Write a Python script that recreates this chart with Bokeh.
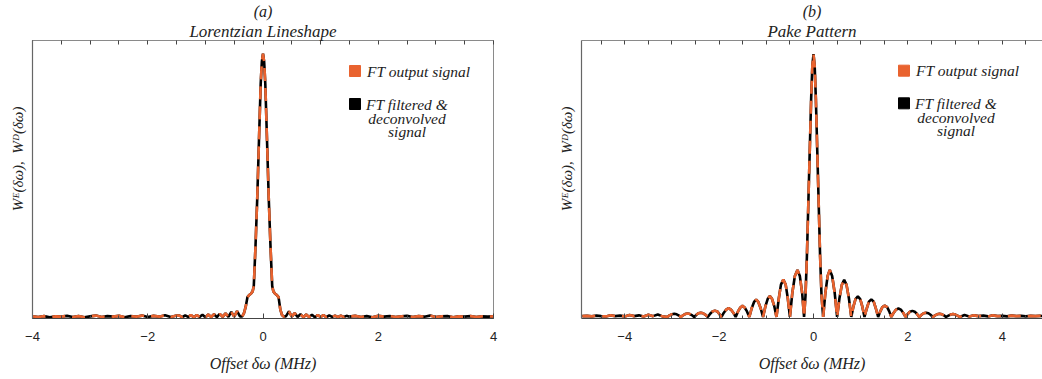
from bokeh.plotting import figure
from bokeh.models import Range1d, FixedTicker, LinearAxis, Title
from bokeh.layouts import row
from bokeh.core.properties import value
from bokeh.embed import file_html
from bokeh.resources import INLINE

# ---------------- data: panel (a) Lorentzian lineshape ----------------
offset_a = [-4.0, -3.9, -3.8, -3.7, -3.6, -3.5, -3.4, -3.3, -3.2, -3.1,
            -3.0, -2.9, -2.8, -2.7, -2.6, -2.5, -2.4, -2.3, -2.2, -2.1,
            -2.0, -1.9, -1.8, -1.7, -1.6, -1.5,
            -1.45, -1.40, -1.35, -1.30, -1.25, -1.20, -1.15, -1.10, -1.05, -1.00,
            -0.95, -0.90, -0.85, -0.80, -0.75, -0.70, -0.65, -0.60, -0.55, -0.50,
            -0.45, -0.40,
            -0.36, -0.33, -0.30, -0.27, -0.24, -0.21, -0.18, -0.16, -0.13, -0.10,
            -0.07, -0.04, -0.02, 0.0, 0.02, 0.04, 0.07, 0.10, 0.13, 0.16,
            0.18, 0.21, 0.24, 0.27, 0.30, 0.33, 0.36,
            0.40, 0.45, 0.50, 0.55, 0.60, 0.65, 0.70, 0.75, 0.80, 0.85,
            0.90, 0.95, 1.00, 1.05, 1.10, 1.15, 1.20, 1.25, 1.30, 1.35,
            1.40, 1.45,
            1.5, 1.6, 1.7, 1.8, 1.9, 2.0, 2.1, 2.2, 2.3, 2.4,
            2.5, 2.6, 2.7, 2.8, 2.9, 3.0, 3.1, 3.2, 3.3, 3.4,
            3.5, 3.6, 3.7, 3.8, 3.9, 4.0]
filtered_a = [0.003, 0.001, 0.004, 0.0, 0.003, 0.002, 0.005, 0.001, 0.004, 0.0,
              0.003, 0.006, 0.001, 0.004, 0.002, 0.005, 0.0, 0.004, 0.002, 0.006,
              0.001, 0.005, 0.002, 0.007, 0.001, 0.006,
              0.006, 0.0, 0.007, 0.001, 0.008, 0.0, 0.008, 0.001, 0.009, 0.0,
              0.010, 0.001, 0.011, 0.0, 0.013, 0.001, 0.015, 0.001, 0.020, 0.002,
              0.023, 0.003,
              0.003, 0.015, 0.040, 0.076, 0.084, 0.089, 0.098, 0.118, 0.27, 0.45,
              0.67, 0.886, 0.97, 1.0, 0.97, 0.886, 0.67, 0.45, 0.27, 0.118,
              0.098, 0.089, 0.084, 0.076, 0.030, 0.008, 0.002,
              0.004, 0.022, 0.002, 0.016, 0.001, 0.011, 0.0, 0.010, 0.001, 0.009,
              0.0, 0.008, 0.001, 0.008, 0.0, 0.007, 0.001, 0.006, 0.0, 0.006,
              0.001, 0.005,
              0.002, 0.005, 0.001, 0.004, 0.0, 0.005, 0.002, 0.004, 0.001, 0.003,
              0.005, 0.001, 0.004, 0.002, 0.006, 0.001, 0.003, 0.004, 0.0, 0.003,
              0.002, 0.004, 0.001, 0.003, 0.002, 0.003]
output_a = list(filtered_a)

# ---------------- data: panel (b) Pake pattern ----------------
offset_b = [-4.9, -4.8, -4.7, -4.6, -4.5, -4.4, -4.3, -4.2, -4.1, -4.0,
            -3.9, -3.8, -3.7, -3.6, -3.5, -3.4, -3.3, -3.2,
            -3.10, -3.05, -3.00, -2.95, -2.90, -2.86,
            -2.81, -2.76, -2.72, -2.67, -2.62, -2.58,
            -2.53, -2.48, -2.44, -2.39, -2.34, -2.29,
            -2.24, -2.19, -2.14, -2.09, -2.04, -2.00,
            -1.95, -1.90, -1.85, -1.80, -1.75, -1.70,
            -1.65, -1.60, -1.55, -1.505, -1.46, -1.41,
            -1.36, -1.31, -1.26, -1.215, -1.17, -1.12,
            -1.07, -1.02, -0.97, -0.925, -0.88, -0.83,
            -0.785, -0.735, -0.69, -0.64, -0.59, -0.545,
            -0.50, -0.45, -0.395, -0.34, -0.29, -0.24,
            -0.20, -0.17, -0.14, -0.11, -0.08, -0.05, -0.025, 0.0,
            0.025, 0.05, 0.08, 0.11, 0.14, 0.17,
            0.205, 0.25, 0.30, 0.345, 0.395, 0.45,
            0.50, 0.55, 0.60, 0.65, 0.70, 0.75,
            0.80, 0.845, 0.89, 0.94, 0.99, 1.035,
            1.08, 1.13, 1.175, 1.225, 1.275, 1.32,
            1.37, 1.415, 1.46, 1.51, 1.56, 1.605,
            1.65, 1.70, 1.75, 1.80, 1.85, 1.90,
            1.95, 2.00, 2.045, 2.095, 2.145, 2.19,
            2.24, 2.29, 2.335, 2.385, 2.435, 2.48,
            2.53, 2.575, 2.62, 2.67, 2.72, 2.765,
            2.81, 2.86, 2.905, 2.955, 3.005, 3.05,
            3.10,
            3.2, 3.3, 3.4, 3.5, 3.6, 3.7, 3.8, 3.9, 4.0, 4.1,
            4.2, 4.3, 4.4, 4.5, 4.6, 4.7, 4.8, 4.9]
filtered_b = [0.003, 0.004, 0.002, 0.005, 0.003, 0.002, 0.006, 0.003, 0.005, 0.002,
              0.007, 0.003, 0.006, 0.002, 0.008, 0.003, 0.009, 0.002,
              0.0, 0.006, 0.010, 0.012, 0.010, 0.006,
              0.0, 0.007, 0.011, 0.013, 0.011, 0.007,
              0.0, 0.008, 0.014, 0.016, 0.014, 0.008,
              0.0, 0.012, 0.021, 0.024, 0.021, 0.012,
              0.0, 0.016, 0.028, 0.033, 0.028, 0.016,
              0.0, 0.021, 0.036, 0.042, 0.036, 0.021,
              0.0, 0.033, 0.057, 0.066, 0.057, 0.033,
              0.0, 0.040, 0.069, 0.080, 0.069, 0.040,
              0.0, 0.071, 0.123, 0.142, 0.123, 0.071,
              0.0, 0.090, 0.156, 0.179, 0.156, 0.090,
              0.0, 0.08, 0.23, 0.43, 0.63, 0.83, 0.955, 1.0,
              0.955, 0.83, 0.63, 0.43, 0.23, 0.08,
              0.0, 0.090, 0.156, 0.179, 0.156, 0.090,
              0.0, 0.071, 0.122, 0.141, 0.122, 0.071,
              0.0, 0.039, 0.068, 0.078, 0.068, 0.039,
              0.0, 0.033, 0.058, 0.067, 0.058, 0.033,
              0.0, 0.021, 0.037, 0.043, 0.037, 0.021,
              0.0, 0.016, 0.028, 0.032, 0.028, 0.016,
              0.0, 0.012, 0.020, 0.023, 0.020, 0.012,
              0.0, 0.008, 0.014, 0.016, 0.014, 0.008,
              0.0, 0.006, 0.010, 0.012, 0.010, 0.006,
              0.0, 0.005, 0.009, 0.011, 0.009, 0.005,
              0.0,
              0.007, 0.002, 0.006, 0.003, 0.005, 0.002, 0.006, 0.003, 0.004, 0.002,
              0.005, 0.003, 0.004, 0.002, 0.004, 0.003, 0.004, 0.003]
output_b = list(filtered_b)

# ---------------- ticks and labels ----------------
major_ticks = [-4, -2, 0, 2, 4]
minor_ticks_a = [-4.0, -3.5, -3.0, -2.5, -2.0, -1.5, -1.0, -0.5, 0.0, 0.5,
                 1.0, 1.5, 2.0, 2.5, 3.0, 3.5, 4.0]
minor_ticks_b = [-4.5, -4.0, -3.5, -3.0, -2.5, -2.0, -1.5, -1.0, -0.5, 0.0,
                 0.5, 1.0, 1.5, 2.0, 2.5, 3.0, 3.5, 4.0, 4.5]
tick_labels = {-4: "\u22124", -2: "\u22122", 0: "0", 2: "2", 4: "4"}
panel_tags = ["(a)", "(b)"]
panel_titles = ["Lorentzian Lineshape", "Pake Pattern"]
series_names = ["FT output signal", "FT filtered &", "deconvolved", "signal"]
x_label = "Offset \u03b4\u03c9 (MHz)"
y_label = "\u00a0" * 11 + "W\u1d31(\u03b4\u03c9),\u00a0\u00a0W\u1d30(\u03b4\u03c9)"

ORANGE = "#E9632F"
SERIF = "Liberation Serif"
SANS = "Liberation Sans"


def make_panel(xs, ys_black, ys_orange, xr, yr, minors, tag, title,
               width, b_left, b_right, b_top, b_bottom, outline):
    p = figure(width=width, height=379, output_backend="svg", toolbar_location=None,
               x_range=Range1d(*xr), y_range=Range1d(*yr),
               min_border_left=b_left, min_border_right=b_right,
               min_border_top=b_top, min_border_bottom=b_bottom,
               background_fill_color="white", border_fill_color="white")
    p.xgrid.visible = False
    p.ygrid.visible = False
    p.outline_line_color = "#8a8a8a" if outline else None
    p.outline_line_width = 1

    ticker = FixedTicker(ticks=major_ticks, minor_ticks=minors)
    xa = p.xaxis[0]
    xa.ticker = ticker
    xa.major_label_overrides = tick_labels
    xa.major_label_text_font = SANS
    xa.major_label_text_font_size = "13px"
    xa.major_label_text_color = "#222222"
    xa.major_label_standoff = 13
    xa.major_tick_in = 5
    xa.major_tick_out = 0
    xa.minor_tick_in = 3
    xa.minor_tick_out = 0
    xa.axis_line_color = "#444444"
    xa.major_tick_line_color = "#444444"
    xa.minor_tick_line_color = "#444444"
    xa.axis_label = x_label
    xa.axis_label_text_font = SERIF
    xa.axis_label_text_font_style = "italic"
    xa.axis_label_text_font_size = "16px"
    xa.axis_label_text_color = "#222222"
    xa.axis_label_standoff = 11

    ya = p.yaxis[0]
    ya.ticker = FixedTicker(ticks=[])
    ya.major_tick_line_color = None
    ya.minor_tick_line_color = None
    ya.major_label_standoff = 0
    ya.axis_line_color = "#666666"
    ya.axis_line_width = 1.2
    ya.axis_label = y_label
    ya.axis_label_text_font = SERIF
    ya.axis_label_text_font_style = "italic"
    ya.axis_label_text_font_size = "15px"
    ya.axis_label_text_color = "#222222"
    ya.axis_label_standoff = 7

    # top frame ticks: minor-only ticker, so no labels are drawn
    top = LinearAxis(ticker=FixedTicker(ticks=[], minor_ticks=minors))
    top.major_label_standoff = 0
    top.major_tick_in = 0
    top.major_tick_out = 0
    top.minor_tick_in = 4
    top.minor_tick_out = 0
    top.axis_line_color = "#8a8a8a"
    top.minor_tick_line_color = "#444444"
    p.add_layout(top, "above")
    p.add_layout(Title(text=title, align="center", text_font=SERIF,
                       text_font_style="italic", text_font_size="17px",
                       text_color="#222222", standoff=0), "above")
    p.add_layout(Title(text=tag, align="center", text_font=SERIF,
                       text_font_style="italic", text_font_size="16px",
                       text_color="#222222", standoff=0), "above")

    p.line(xs, ys_black, line_color="black", line_width=2.6)
    p.line(xs, ys_orange, line_color=ORANGE, line_width=2.6, line_dash="13 7")

    # legend (positions given in frame pixels, converted to data units)
    fw = width - b_left - b_right
    fh = 379 - b_top - b_bottom

    def dx(px):
        return xr[0] + px / fw * (xr[1] - xr[0])

    def dy(py):
        return yr[1] - py / fh * (yr[1] - yr[0])

    p.scatter([dx(322.5)], [dy(30.5)], marker="square", size=11,
              fill_color=ORANGE, line_color=ORANGE)
    p.scatter([dx(322.5)], [dy(63.5)], marker="square", size=11,
              fill_color="black", line_color="black")
    p.text([dx(334.5)], [dy(30.5)], text=[series_names[0]],
           text_font=value(SERIF), text_font_style="italic", text_font_size="15.5px",
           text_align="left", text_baseline="middle", text_color="#222222")
    p.text([dx(374.5)] * 3, [dy(64), dy(77.5), dy(91)], text=series_names[1:],
           text_font=value(SERIF), text_font_style="italic", text_font_size="15.5px",
           text_align="center", text_baseline="middle", text_color="#222222")
    return p


pa = make_panel(offset_a, filtered_a, output_a, (-4.0, 4.0), (-0.005, 1.0505),
                minor_ticks_a, panel_tags[0], panel_titles[0],
                520, 32, 27, 40, 61, True)
pb = make_panel(offset_b, filtered_b, output_b, (-4.917, 4.853), (-0.006, 1.052),
                minor_ticks_b, panel_tags[1], panel_titles[1],
                522, 61, 0, 38, 60, False)

layout = row(pa, pb, spacing=0)
open("out.html", "w").write(file_html(layout, INLINE))
